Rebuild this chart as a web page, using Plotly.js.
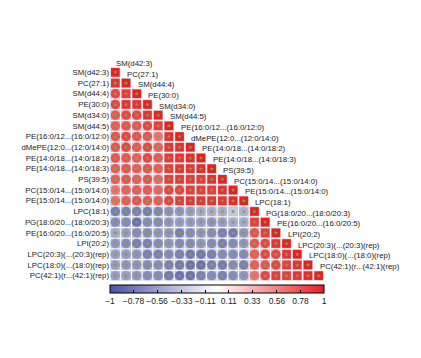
<!DOCTYPE html>
<html><head><meta charset="utf-8">
<script src="https://cdn.plot.ly/plotly-3.0.1.min.js"></script>
<style>html,body{margin:0;padding:0;background:#fff}</style></head>
<body><div id="chart" style="width:421px;height:358px"></div>
<script>
const labels = ["SM(d42:3)","PC(27:1)","SM(d44:4)","PE(30:0)","SM(d34:0)","SM(d44:5)",
  "PE(16:0/12...(16:0/12:0)","dMePE(12:0...(12:0/14:0)","PE(14:0/18...(14:0/18:2)",
  "PE(14:0/18...(14:0/18:3)","PS(39:5)","PC(15:0/14...(15:0/14:0)","PE(15:0/14...(15:0/14:0)",
  "LPC(18:1)","PG(18:0/20...(18:0/20:3)","PE(16:0/20...(16:0/20:5)","LPI(20:2)",
  "LPC(20:3)(...(20:3)(rep)","LPC(18:0)(...(18:0)(rep)","PC(42:1)(r...(42:1)(rep)"];

// lower triangle of the correlation matrix, row by row (diagonal included)
const corrRows = [
  [1],
  [0.92,1],
  [0.84,0.88,1],
  [0.84,0.92,0.92,1],
  [0.76,0.84,0.84,0.92,1],
  [0.74,0.78,0.76,0.85,0.88,1],
  [0.78,0.84,0.78,0.76,0.64,0.94,1],
  [0.78,0.84,0.76,0.84,0.74,0.92,0.94,1],
  [0.78,0.78,0.74,0.84,0.76,0.9,0.92,0.95,1],
  [0.74,0.78,0.74,0.78,0.74,0.88,0.92,0.92,0.95,1],
  [0.74,0.78,0.74,0.78,0.7,0.88,0.9,0.9,0.9,0.94,1],
  [0.64,0.72,0.74,0.76,0.7,0.85,0.85,0.88,0.88,0.88,0.92,1],
  [0.66,0.74,0.78,0.76,0.74,0.86,0.9,0.92,0.92,0.92,0.92,0.95,1],
  [-0.76,-0.74,-0.74,-0.76,-0.7,-0.64,-0.62,-0.58,-0.5,-0.48,-0.48,-0.32,-0.46,1],
  [-0.68,-0.68,-0.82,-0.68,-0.68,-0.62,-0.58,-0.58,-0.58,-0.62,-0.58,-0.5,-0.5,0.88,1],
  [-0.5,-0.58,-0.68,-0.68,-0.62,-0.62,-0.74,-0.68,-0.62,-0.68,-0.74,-0.78,-0.62,0.78,0.88,1],
  [-0.62,-0.68,-0.74,-0.74,-0.68,-0.62,-0.68,-0.68,-0.62,-0.68,-0.74,-0.68,-0.62,0.78,0.84,0.92,1],
  [-0.58,-0.58,-0.62,-0.74,-0.74,-0.68,-0.74,-0.78,-0.78,-0.74,-0.68,-0.68,-0.68,0.74,0.84,0.84,0.92,1],
  [-0.58,-0.62,-0.62,-0.68,-0.68,-0.74,-0.78,-0.82,-0.82,-0.74,-0.78,-0.68,-0.74,0.74,0.78,0.84,0.88,0.92,1],
  [-0.58,-0.58,-0.62,-0.68,-0.68,-0.78,-0.82,-0.82,-0.74,-0.68,-0.74,-0.68,-0.62,0.64,0.84,0.88,0.88,0.92,0.96,1]
];

const cbTickVals = [-1,-0.78,-0.56,-0.33,-0.11,0.11,0.33,0.56,0.78,1];
const cbTickText = ["\u22121","\u22120.78","\u22120.56","\u22120.33","\u22120.11","0.11","0.33","0.56","0.78","1"];

const bx=[],by=[],cx=[],cy=[],cv=[],cs=[],csz=[];
corrRows.forEach((row,i)=>{
  row.forEach((v,j)=>{
    bx.push(j); by.push(i);
    cx.push(j); cy.push(i); cv.push(v);
    const sq = Math.abs(v) >= 0.87;
    cs.push(sq ? 'square' : 'circle');
    csz.push(sq ? 8.6 : 9.4);
  });
});

const traces = [
  {type:'scatter',mode:'markers',x:bx,y:by,hoverinfo:'skip',showlegend:false,
   marker:{symbol:'square',size:9.8,color:'#c6c6c6',opacity:1,line:{width:0}}},
  {type:'scatter',mode:'markers',x:cx,y:cy,showlegend:false,
   marker:{symbol:cs,size:csz,color:cv,cmin:-1,cmax:1,opacity:1,
     colorscale:[[0,'#4b51a8'],[0.5,'#ffffff'],[1,'#ed1c24']],
     line:{width:0},showscale:true,
     colorbar:{orientation:'h',x:0.5,xanchor:'center',y:-0.021,yanchor:'top',
       len:1,lenmode:'fraction',thickness:8,thicknessmode:'pixels',xpad:0,ypad:0,
       outlinewidth:1,outlinecolor:'#000',ticks:'inside',ticklen:3,tickcolor:'#000',
       tickangle:0,
       tickvals:cbTickVals,ticktext:cbTickText,tickfont:{size:8.5,color:'#222',family:'Liberation Sans, Arial, sans-serif'}}}},
  {type:'scatter',mode:'markers',x:cx,y:cy,hoverinfo:'skip',showlegend:false,
   marker:{symbol:'star',size:3.5,color:'#78a83a',opacity:1,line:{width:0}}}
];

const annotations = labels.map((t,i)=>({x:i,y:i,xref:'x',yref:'y',text:t,showarrow:false,
  xanchor:'left',yanchor:'middle',xshift:0,yshift:9,borderpad:0,
  font:{size:7.8,color:'#222',family:'Liberation Sans, Arial, sans-serif'}}));

const layout = {
  width:421,height:358,paper_bgcolor:'#fff',plot_bgcolor:'#fff',
  margin:{l:110,r:97,t:67,b:77},
  showlegend:false,
  font:{family:'Liberation Sans, Arial, sans-serif'},
  xaxis:{range:[-0.5,19.5],visible:false,fixedrange:true},
  yaxis:{range:[19.5,-0.5],tickvals:labels.map((_,i)=>i),ticktext:labels,
    showgrid:false,zeroline:false,showline:false,ticks:'',
    tickfont:{size:7.8,color:'#222'},fixedrange:true},
  annotations:annotations
};
Plotly.newPlot('chart',traces,layout,{displayModeBar:false,staticPlot:true});
</script></body></html>
